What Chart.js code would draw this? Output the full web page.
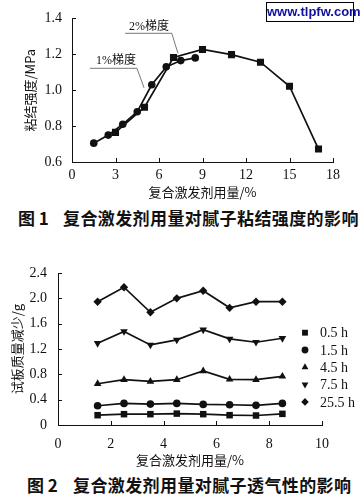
<!DOCTYPE html>
<html>
<head>
<meta charset="utf-8">
<script src="https://cdn.jsdelivr.net/npm/chart.js@4.4.0/dist/chart.umd.min.js"></script>
<style>
  body { margin: 0; background: #fff; width: 360px; height: 497px; position: relative; overflow: hidden; font-family: 'Noto Sans CJK SC', sans-serif; color: #111; }
  canvas { position: absolute; left: 0; }
  #strength { top: 0; }
  #airflow { top: 250px; }
  .cap { position: absolute; font-weight: bold; font-size: 17px; line-height: 20px; white-space: nowrap; }
  .mark { position: absolute; left: 266px; top: 2px; width: 86px; height: 18px; border: 1px solid #000; background: #fff;
          font: bold 13px 'Liberation Sans', Arial, sans-serif; color: #1010a0; text-align: center; line-height: 18px; }
</style>
</head>
<body>
<canvas id="strength" width="360" height="205"></canvas>
<canvas id="airflow" width="360" height="220"></canvas>
<div class="mark">www.tlpfw.com</div>
<div class="cap" style="left:18px;top:208px">图 1</div>
<div class="cap" style="left:63px;top:208px;letter-spacing:0.4px">复合激发剂用量对腻子粘结强度的影响</div>
<div class="cap" style="left:27px;top:475px">图 2</div>
<div class="cap" style="left:73px;top:475px;letter-spacing:0.4px">复合激发剂用量对腻子透气性的影响</div>
<script>
// Fig 1: bond strength vs dosage (two gradients)
const grad1X = [1.5, 2.5, 3.5, 4.5, 5.5, 6.5, 7.5, 8.5];
const grad1Y = [0.705, 0.75, 0.81, 0.88, 1.03, 1.13, 1.165, 1.18];
const grad2X = [3, 5, 7, 9, 11, 13, 15, 17];
const grad2Y = [0.765, 0.905, 1.182, 1.227, 1.198, 1.156, 1.022, 0.672];

// Fig 2: test panel mass loss vs dosage
const dosage = [1.5, 2.5, 3.5, 4.5, 5.5, 6.5, 7.5, 8.5];
const loss05 = [0.155, 0.171, 0.171, 0.18, 0.171, 0.155, 0.15, 0.176];
const loss15 = [0.304, 0.341, 0.33, 0.341, 0.325, 0.32, 0.31, 0.341];
const loss45 = [0.651, 0.715, 0.688, 0.715, 0.853, 0.72, 0.715, 0.768];
const loss75 = [1.29, 1.477, 1.264, 1.344, 1.504, 1.36, 1.307, 1.37];
const loss255 = [1.947, 2.176, 1.78, 2.0, 2.12, 1.85, 1.947, 1.947];
const lossLabels = ['0.5 h', '1.5 h', '4.5 h', '7.5 h', '25.5 h'];

const serif = "'Liberation Serif', 'DejaVu Serif', serif";
const cjk = "'Noto Sans CJK SC', sans-serif";
const ink = '#111';

Chart.defaults.font.family = serif;
Chart.defaults.color = ink;

const toPoints = (xs, ys) => xs.map((x, i) => ({ x: x, y: ys[i] }));

// tick marks pointing into the plot
const inwardTicks = {
  id: 'inwardTicks',
  afterDatasetsDraw(chart) {
    const { ctx, scales: { x, y } } = chart;
    ctx.save();
    ctx.strokeStyle = ink;
    ctx.lineWidth = 1;
    ctx.beginPath();
    x.ticks.forEach(t => {
      if (t.value === x.min) return;
      const px = Math.round(x.getPixelForValue(t.value)) + 0.5;
      ctx.moveTo(px, x.top);
      ctx.lineTo(px, x.top - 4);
    });
    y.ticks.forEach(t => {
      if (t.value === y.min) return;
      const py = Math.round(y.getPixelForValue(t.value)) + 0.5;
      ctx.moveTo(y.right, py);
      ctx.lineTo(y.right + 4, py);
    });
    ctx.stroke();
    ctx.restore();
  }
};

// callout labels with leader lines (fig 1)
const callouts = {
  id: 'callouts',
  afterDraw(chart, args, opts) {
    const { ctx, scales: { x, y } } = chart;
    ctx.save();
    ctx.strokeStyle = '#555';
    ctx.lineWidth = 0.8;
    ctx.fillStyle = ink;
    ctx.font = '12px ' + serif + ', ' + cjk;
    ctx.textAlign = 'center';
    ctx.textBaseline = 'middle';
    opts.items.forEach(it => {
      ctx.fillText(it.text, x.getPixelForValue(it.at[0]), y.getPixelForValue(it.at[1]));
      ctx.beginPath();
      it.path.forEach((p, i) => {
        const px = x.getPixelForValue(p[0]), py = y.getPixelForValue(p[1]);
        if (i === 0) ctx.moveTo(px, py); else ctx.lineTo(px, py);
      });
      ctx.stroke();
    });
    ctx.restore();
  }
};

// legend drawn inside the right part of the plot (fig 2)
const sideLegend = {
  id: 'sideLegend',
  afterDraw(chart, args, opts) {
    const ctx = chart.ctx;
    ctx.save();
    ctx.fillStyle = ink;
    ctx.font = '14px ' + serif;
    ctx.textAlign = 'left';
    ctx.textBaseline = 'middle';
    chart.data.datasets.forEach((ds, i) => {
      const yy = opts.top + i * opts.gap;
      Chart.helpers.drawPoint(ctx, {
        pointStyle: ds.pointStyle, rotation: ds.pointRotation || 0,
        radius: ds.pointRadius * 0.9, borderWidth: 0
      }, opts.x, yy);
      ctx.fillText(ds.label, opts.x + 15, yy + 1);
    });
    ctx.restore();
  }
};

function axisX(min, max, step, height, pad, titlePad) {
  return {
    type: 'linear', min: min, max: max,
    afterFit: s => { s.height = height; },
    grid: { display: false, drawTicks: false },
    border: { display: true, color: ink, width: 1 },
    ticks: { stepSize: step, padding: pad, color: ink, font: { family: serif, size: 14 }, maxRotation: 0 },
    title: { display: true, text: '复合激发剂用量/%', color: ink, font: { family: cjk, size: 13 }, padding: titlePad }
  };
}

function axisY(min, max, step, width, pad, label, titlePad, fmt) {
  return {
    type: 'linear', min: min, max: max,
    afterFit: s => { s.width = width; },
    grid: { display: false, drawTicks: false },
    border: { display: true, color: ink, width: 1 },
    ticks: { stepSize: step, padding: pad, color: ink, font: { family: serif, size: 14 }, callback: fmt },
    title: { display: true, text: label, color: ink, font: { family: cjk, size: 13 }, padding: titlePad }
  };
}

const lineStyle = { borderColor: ink, backgroundColor: ink, borderWidth: 1.7, pointBorderWidth: 0, showLine: true, tension: 0 };

new Chart(document.getElementById('strength'), {
  type: 'scatter',
  data: {
    datasets: [
      { ...lineStyle, label: '1%梯度', data: toPoints(grad1X, grad1Y), pointStyle: 'circle', pointRadius: 3.8 },
      { ...lineStyle, label: '2%梯度', data: toPoints(grad2X, grad2Y), pointStyle: 'rect', pointRadius: 5 }
    ]
  },
  options: {
    responsive: false,
    animation: false,
    layout: { padding: { top: 8, right: 27, left: 0, bottom: 0 } },
    plugins: {
      legend: { display: false },
      tooltip: { enabled: false },
      callouts: {
        items: [
          { text: '2%梯度', at: [5.31, 1.354], path: [[3.66, 1.317], [6.88, 1.317], [7.31, 1.205]] },
          { text: '1%梯度', at: [3.03, 1.163], path: [[1.24, 1.122], [4.48, 1.122], [4.97, 1.013]] }
        ]
      }
    },
    scales: {
      x: axisX(0, 18, 3, 43, 5, { top: 0, bottom: 5 }),
      y: axisY(0.6, 1.4, 0.2, 72, 10, '粘结强度/MPa', { top: 22, bottom: 0 }, v => v.toFixed(1))
    }
  },
  plugins: [inwardTicks, callouts]
});

const markers = [
  { style: 'rect', radius: 4.6, rot: 0 },
  { style: 'circle', radius: 3.8, rot: 0 },
  { style: 'triangle', radius: 4.4, rot: 0 },
  { style: 'triangle', radius: 4.4, rot: 180 },
  { style: 'rectRot', radius: 4.2, rot: 0 }
];
const lossSeries = [loss05, loss15, loss45, loss75, loss255];

new Chart(document.getElementById('airflow'), {
  type: 'scatter',
  data: {
    datasets: lossSeries.map((vals, i) => ({
      ...lineStyle,
      label: lossLabels[i],
      data: toPoints(dosage, vals),
      pointStyle: markers[i].style,
      pointRadius: markers[i].radius,
      pointRotation: markers[i].rot
    }))
  },
  options: {
    responsive: false,
    animation: false,
    layout: { padding: { top: 23, right: 38, left: 0, bottom: 0 } },
    plugins: {
      legend: { display: false },
      tooltip: { enabled: false },
      sideLegend: { x: 305, top: 82.7, gap: 17.3 }
    },
    scales: {
      x: axisX(0, 10, 2, 45, 11, { top: 0, bottom: 2 }),
      y: axisY(0, 2.4, 0.4, 58, 11, '试板质量减少/g', { top: 9, bottom: 0 }, v => v === 0 ? '0' : v.toFixed(1))
    }
  },
  plugins: [inwardTicks, sideLegend]
});
</script>
</body>
</html>
